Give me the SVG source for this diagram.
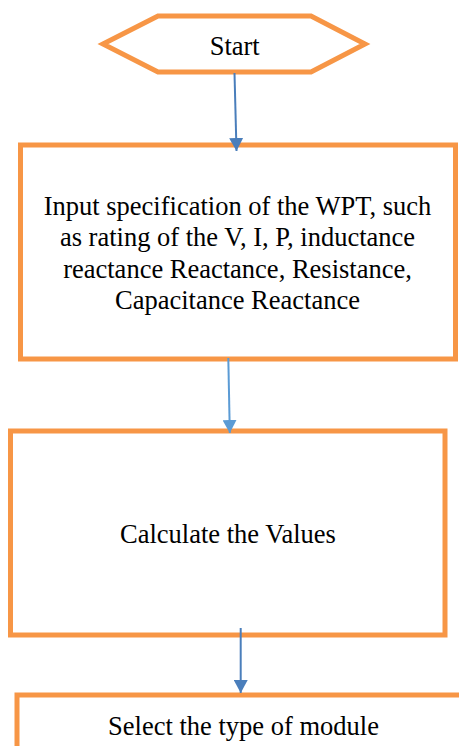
<svg xmlns="http://www.w3.org/2000/svg" width="459" height="746" viewBox="0 0 459 746">
<style>
.n{fill:#fff;stroke:#F79646;stroke-width:5}
.t{font-family:"Liberation Serif","Times New Roman",serif;font-size:26.5px;fill:#000;text-anchor:middle}
.c{fill:none;stroke-width:2}
</style>
<defs>
<marker id="ah1" markerUnits="userSpaceOnUse" markerWidth="14" markerHeight="14" viewBox="0 0 14 14" refX="13" refY="7" orient="auto"><path d="M0,0 L13,7 L0,14 z" fill="#4A7EBB"/></marker>
<marker id="ah2" markerUnits="userSpaceOnUse" markerWidth="14" markerHeight="14" viewBox="0 0 14 14" refX="13" refY="7" orient="auto"><path d="M0,0 L13,7 L0,14 z" fill="#5B9BD5"/></marker>
</defs>
<rect width="459" height="746" fill="#fff"/>
<g id="start">
<polygon class="n" stroke-width="4.5" points="103,44 158,16 311,16 365,44 311,72 158,72"/>
<text class="t" x="234.7" y="55">Start</text>
</g>
<g id="input">
<rect class="n" x="20.5" y="145" width="435" height="214"/>
<text class="t" x="237.5" y="215">Input specification of the WPT, such</text>
<text class="t" x="237.5" y="246.3">as rating of the V, I, P, inductance</text>
<text class="t" x="237.5" y="277.6">reactance Reactance, Resistance,</text>
<text class="t" x="237.5" y="309">Capacitance Reactance</text>
</g>
<g id="calc">
<rect class="n" x="10.5" y="431" width="434.5" height="204"/>
<text class="t" x="228" y="543">Calculate the Values</text>
</g>
<g id="select">
<rect class="n" x="17" y="695" width="460" height="80"/>
<text class="t" x="243.5" y="735">Select the type of module</text>
</g>
<g id="connectors">
<line class="c" stroke="#4A7EBB" x1="234.5" y1="73" x2="236.5" y2="151" marker-end="url(#ah1)"/>
<line class="c" stroke="#5B9BD5" x1="228.3" y1="358" x2="229.8" y2="433" marker-end="url(#ah2)"/>
<line class="c" stroke="#4A7EBB" x1="240.7" y1="628" x2="240.7" y2="693" marker-end="url(#ah1)"/>
</g>
</svg>
